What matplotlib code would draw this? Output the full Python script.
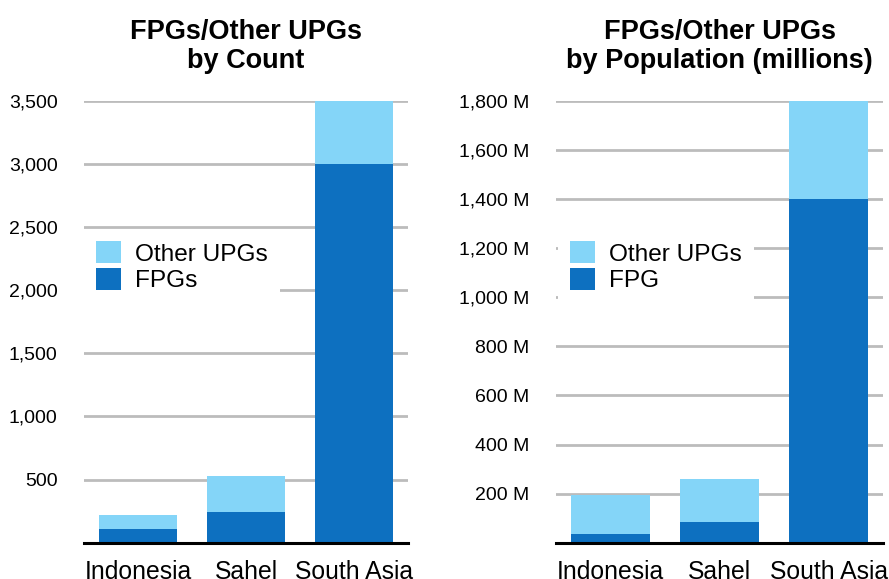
import matplotlib
matplotlib.use("Agg")
import matplotlib.pyplot as plt
from matplotlib.ticker import FuncFormatter

plt.rcParams['font.family'] = ['Liberation Sans', 'DejaVu Sans']

regions = ["Indonesia", "Sahel", "South Asia"]

# by count
fpg_count = [110, 245, 3000]
other_count = [110, 280, 500]

# by population (millions)
fpg_pop = [35, 84, 1400]
other_pop = [159, 176, 400]

light = "#84d5f8"
dark = "#0d70c0"
grid_col = "#bcbcbc"

fig = plt.figure(figsize=(8.89, 5.79), dpi=100)
ax1 = fig.add_axes([0.0945, 0.0627, 0.3645, 0.763])
ax2 = fig.add_axes([0.6254, 0.0627, 0.368, 0.763])


def draw(ax, fpg, other, ymax, step, fmt, fpg_label, title, leg_x):
    x = range(len(regions))
    ax.bar(x, fpg, width=0.72, color=dark, label=fpg_label, zorder=3)
    ax.bar(x, other, width=0.72, bottom=fpg, color=light, label="Other UPGs", zorder=3)
    ax.set_xlim(-0.5, 2.5)
    ax.set_ylim(0, ymax)
    ax.set_yticks(range(step, ymax + 1, step))
    ax.yaxis.set_major_formatter(FuncFormatter(fmt))
    ax.set_xticks(list(x))
    ax.set_xticklabels(regions, fontsize=17.8)
    ax.tick_params(axis='y', length=0, pad=19, labelsize=14)
    ax.tick_params(axis='x', length=0, pad=12.5)
    ax.grid(axis='y', color=grid_col, linewidth=2, zorder=0)
    ax.set_axisbelow(True)
    for s in ["top", "right", "left"]:
        ax.spines[s].set_visible(False)
    ax.spines["bottom"].set_linewidth(2.2)
    ax.spines["bottom"].set_zorder(4)
    ax.set_title(title, fontsize=19.5, fontweight='bold', pad=24, linespacing=1.15)
    h, l = ax.get_legend_handles_labels()
    leg = ax.legend(h[::-1], l[::-1], loc='upper left', bbox_to_anchor=(leg_x, 0.71),
                    borderaxespad=0, fontsize=17.6, frameon=True, framealpha=1,
                    edgecolor='white', fancybox=False, handlelength=1.0,
                    handleheight=1.0, handletextpad=0.6, labelspacing=0.1,
                    borderpad=0.5)
    leg.get_frame().set_linewidth(0)
    leg.set_zorder(5)


draw(ax1, fpg_count, other_count, 3500, 500, lambda v, p: f"{int(v):,}",
     "FPGs", "FPGs/Other UPGs\nby Count", 0.0)
draw(ax2, fpg_pop, other_pop, 1800, 200, lambda v, p: f"{int(v):,} M",
     "FPG", "FPGs/Other UPGs\nby Population (millions)", 0.006)

fig.savefig("out.png", dpi=100)
